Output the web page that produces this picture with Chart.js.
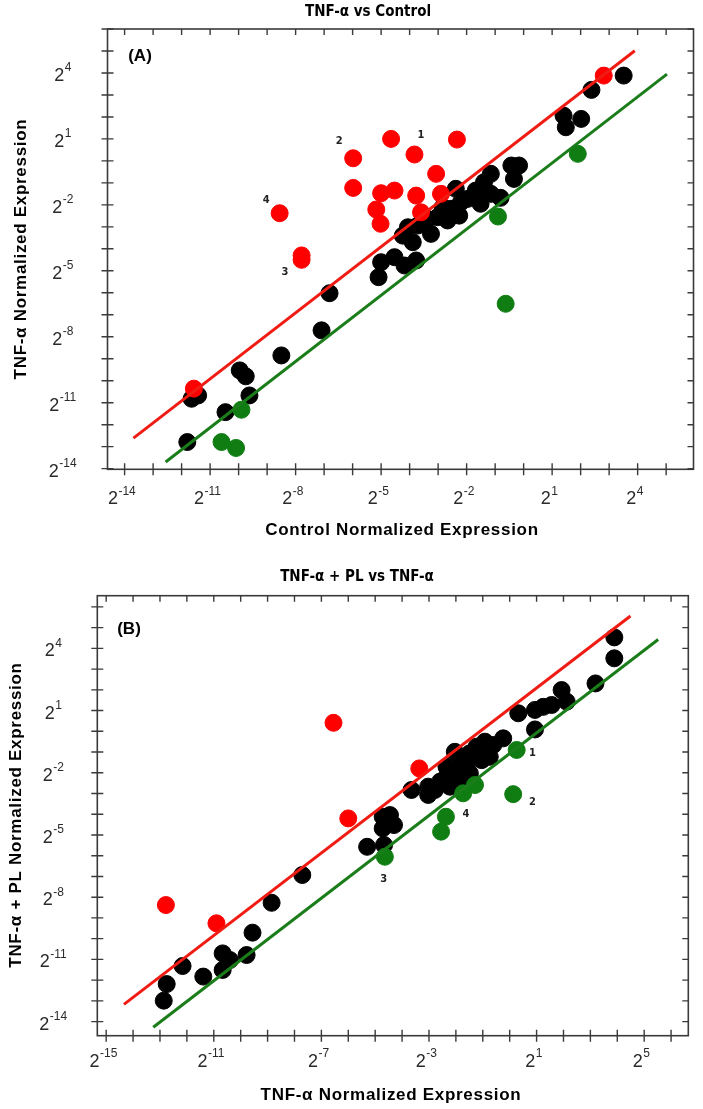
<!DOCTYPE html>
<html>
<head>
<meta charset="utf-8">
<script src="https://cdn.jsdelivr.net/npm/chart.js@4.4.0/dist/chart.umd.min.js"></script>
<style>
  html, body { margin: 0; padding: 0; background: #fff; }
  canvas { display: block; }
</style>
</head>
<body>
<canvas id="chartA" width="703" height="545"></canvas>
<canvas id="chartB" width="703" height="564"></canvas>
<script>
// values are log2 of the normalized expression, [x, y]
var aBlack = [
  [3.51, 3.88], [2.38, 3.23], [1.40, 2.06], [1.48, 1.53], [2.02, 1.91],
  [-0.16, -0.21], [-0.43, -0.21], [-0.34, -0.82], [-1.15, -0.59], [-1.39, -0.97],
  [-1.68, -1.35], [-1.15, -1.50], [-0.81, -1.68], [-1.51, -1.95], [-1.97, -1.73],
  [-2.38, -1.27], [-2.20, -1.88], [-2.55, -2.18], [-2.84, -2.11], [-3.02, -2.56],
  [-2.67, -2.71], [-2.26, -2.49], [-3.37, -2.64], [-3.25, -3.32], [-3.71, -2.94],
  [-4.06, -3.02], [-3.89, -3.70], [-4.24, -3.40], [-5.00, -4.61], [-4.53, -4.38],
  [-3.77, -4.53], [-4.18, -4.76], [-5.09, -5.29], [-6.81, -6.02], [-7.09, -7.71],
  [-8.50, -8.85], [-9.96, -9.53], [-9.75, -9.80], [-9.62, -10.67], [-10.46, -11.43],
  [-11.80, -12.79], [-11.65, -10.82], [-11.42, -10.67]
];
var aRed = [
  [2.81, 3.88], [-4.65, 1.00], [-2.34, 0.97], [-3.83, 0.29], [-5.98, 0.12], [-3.07, -0.59],
  [-5.98, -1.23], [-5.00, -1.47], [-4.53, -1.35], [-3.77, -1.58], [-2.90, -1.50],
  [-8.56, -2.38], [-5.17, -2.21], [-5.02, -2.86], [-3.60, -2.34], [-7.79, -4.30],
  [-7.79, -4.50], [-11.57, -10.36]
];
var aGreen = [
  [1.90, 0.32], [-0.90, -2.53], [-0.63, -6.50], [-9.90, -11.32], [-10.60, -12.79], [-10.09, -13.06]
];
var aRedLine = [[-13.69, -12.61], [3.90, 5.01]];
var aGreenLine = [[-12.56, -13.70], [5.03, 3.95]];
var aXTicks = [-14, -11, -8, -5, -2, 1, 4];
var aYTicks = [4, 1, -2, -5, -8, -11, -14];
var aNotes = [['1', -3.6, 1.15], ['2', -6.47, 0.89], ['3', -8.37, -5.06], ['4', -9.03, -1.8]];

var bBlack = [
  [3.89, 4.53], [3.89, 3.52], [3.19, 2.31], [1.93, 1.99], [2.12, 1.43], [1.56, 1.27],
  [1.25, 1.18], [0.94, 1.03], [0.32, 0.87], [0.94, 0.09],
  [-0.24, -0.34], [-0.61, -0.66], [-0.92, -0.50], [-1.23, -0.74], [-0.74, -1.23],
  [-1.04, -1.39], [-1.48, -1.06], [-1.85, -1.23], [-2.04, -0.99], [-1.60, -1.71],
  [-2.10, -1.87], [-2.35, -2.19], [-1.85, -2.27], [-2.59, -2.43], [-2.22, -2.67],
  [-2.78, -2.83], [-3.03, -2.67], [-3.65, -2.83], [-3.03, -3.07], [-1.48, -2.03], [-2.35, -1.71],
  [-4.45, -4.04], [-4.72, -4.12], [-4.55, -4.36], [-4.72, -4.68], [-4.30, -4.52],
  [-5.30, -5.57], [-4.67, -5.48], [-7.71, -6.93],
  [-8.85, -8.27], [-9.56, -9.71], [-9.78, -10.79], [-10.67, -10.71], [-10.40, -11.03],
  [-10.67, -11.51], [-11.39, -11.83], [-12.16, -11.32], [-12.75, -12.19], [-12.86, -12.99]
];
var bRed = [[-6.55, 0.41], [-3.36, -1.79], [-6.00, -4.20], [-12.78, -8.38], [-10.90, -9.26]];
var bGreen = [
  [0.26, -0.90], [0.13, -3.03], [-2.37, -4.12], [-1.73, -2.99], [-1.29, -2.59],
  [-2.55, -4.84], [-4.64, -6.05]
];
var bRedLine = [[-14.34, -13.17], [4.49, 5.56]];
var bGreenLine = [[-13.25, -14.27], [5.52, 4.43]];
var bXTicks = [-15, -11, -7, -3, 1, 5];
var bYTicks = [4, 1, -2, -5, -8, -11, -14];
var bNotes = [['1', 0.85, -1.03], ['2', 0.85, -3.4], ['3', -4.68, -7.14], ['4', -1.63, -3.99]];

var RED = '#ff0000', GREEN = '#0f7d12', BLACK = '#000000';

function pts(arr) {
  return arr.map(function (p) { return { x: p[0], y: p[1] }; });
}

function dots(arr, color, order) {
  return { data: pts(arr), backgroundColor: color, borderColor: color, borderWidth: 1,
           pointRadius: 8.5, pointHoverRadius: 8.5, order: order };
}

function line(arr, color) {
  return { data: pts(arr), showLine: true, borderColor: color, borderWidth: 3,
           pointRadius: 0, fill: false, order: 0 };
}

// superscript tick label: "2" then the exponent
function powLabel(ctx, exp, x, y) {
  var big = '18px "Liberation Sans", Arial, sans-serif';
  var small = '12px "Liberation Sans", Arial, sans-serif';
  var e = String(exp);
  ctx.font = big;
  var wb = ctx.measureText('2').width;
  ctx.font = small;
  var we = ctx.measureText(e).width;
  var left = x - (wb + we) / 2;
  ctx.textAlign = 'left';
  ctx.textBaseline = 'middle';
  ctx.font = big;
  ctx.fillText('2', left, y);
  ctx.font = small;
  ctx.fillText(e, left + wb + 0.5, y - 8);
}

var framePlugin = {
  id: 'frame',
  afterDatasetsDraw: function (chart, args, o) {
    var ctx = chart.ctx, a = chart.chartArea;
    var xs = chart.scales.x, ys = chart.scales.y;
    var v, p;
    ctx.save();
    ctx.strokeStyle = '#3a3a3a';
    ctx.lineWidth = 1.6;
    ctx.strokeRect(a.left, a.top, a.right - a.left, a.bottom - a.top);

    ctx.lineWidth = 1.4;
    ctx.beginPath();
    for (v = Math.ceil(xs.min); v <= xs.max; v++) {
      p = xs.getPixelForValue(v);
      ctx.moveTo(p, a.bottom - 6); ctx.lineTo(p, a.bottom + 6);
      ctx.moveTo(p, a.top); ctx.lineTo(p, a.top + 6);
    }
    for (v = Math.ceil(ys.min); v <= ys.max; v++) {
      p = ys.getPixelForValue(v);
      ctx.moveTo(a.left - 6, p); ctx.lineTo(a.left + 6, p);
      ctx.moveTo(a.right - 6, p); ctx.lineTo(a.right, p);
    }
    ctx.stroke();

    ctx.fillStyle = '#2a2a2a';
    o.xTicks.forEach(function (t) {
      powLabel(ctx, t, xs.getPixelForValue(t) - 3, a.bottom + o.xLabelGap);
    });
    o.yTicks.forEach(function (t) {
      powLabel(ctx, t, o.yLabelX, ys.getPixelForValue(t) + 3);
    });

    ctx.fillStyle = '#000';
    ctx.textAlign = 'center';
    ctx.textBaseline = 'middle';
    ctx.font = 'bold 15px "Liberation Sans Narrow", "DejaVu Sans Condensed", sans-serif';
    ctx.fillText(o.title, o.titleX, o.titleY);

    ctx.font = 'bold 17px "Liberation Sans", Arial, sans-serif';
    ctx.letterSpacing = '0.7px';
    ctx.fillText(o.xTitle, o.xTitleX, o.xTitleY);
    ctx.save();
    ctx.translate(o.yTitleX, o.yTitleY);
    ctx.rotate(-Math.PI / 2);
    ctx.fillText(o.yTitle, 0, 0);
    ctx.restore();
    ctx.letterSpacing = '0px';

    ctx.font = 'bold 17px "Liberation Sans", Arial, sans-serif';
    ctx.fillText(o.panel, a.left + o.panelDx, a.top + o.panelDy);

    ctx.font = 'bold 11px "Liberation Sans Narrow", "DejaVu Sans Condensed", sans-serif';
    ctx.fillStyle = '#222';
    o.notes.forEach(function (n) {
      ctx.fillText(n[0], xs.getPixelForValue(n[1]), ys.getPixelForValue(n[2]));
    });
    ctx.restore();
  }
};

function makeChart(id, ds, range, box, frame) {
  var cv = document.getElementById(id);
  return new Chart(cv, {
    type: 'scatter',
    data: { datasets: ds },
    options: {
      responsive: false,
      animation: false,
      devicePixelRatio: 1,
      layout: { padding: { top: box.top, right: cv.width - box.right, left: 0, bottom: 0 } },
      plugins: { legend: { display: false }, tooltip: { enabled: false }, frame: frame },
      scales: {
        x: {
          type: 'linear', min: range.xMin, max: range.xMax,
          ticks: { display: false }, grid: { display: false }, border: { display: false },
          afterFit: function (s) { s.height = cv.height - box.bottom; }
        },
        y: {
          type: 'linear', min: range.yMin, max: range.yMax,
          ticks: { display: false }, grid: { display: false }, border: { display: false },
          afterFit: function (s) { s.width = box.left; }
        }
      }
    },
    plugins: [framePlugin]
  });
}

makeChart('chartA',
  [line(aRedLine, '#f01c14'), line(aGreenLine, '#1a7d1a'),
   dots(aGreen, GREEN, 1), dots(aRed, RED, 2), dots(aBlack, BLACK, 3)],
  { xMin: -14.6, xMax: 5.96, yMin: -14.03, yMax: 6 },
  { left: 107.5, right: 696.5, top: 29, bottom: 469.3 },
  { xTicks: aXTicks, yTicks: aYTicks, xLabelGap: 30, yLabelX: 62.5,
    title: 'TNF-\u03b1 vs Control', titleX: 368, titleY: 12,
    xTitle: 'Control Normalized Expression', xTitleX: 402, xTitleY: 530,
    yTitle: 'TNF-\u03b1 Normalized Expression', yTitleX: 21, yTitleY: 249,
    panel: '(A)', panelDx: 32.5, panelDy: 27, notes: aNotes });

makeChart('chartB',
  [line(bRedLine, '#f01c14'), line(bGreenLine, '#1a7d1a'),
   dots(bGreen, GREEN, 1), dots(bRed, RED, 2), dots(bBlack, BLACK, 3)],
  { xMin: -15.33, xMax: 6.64, yMin: -14.68, yMax: 6.54 },
  { left: 97.3, right: 688.3, top: 50.7, bottom: 490.7 },
  { xTicks: bXTicks, yTicks: bYTicks, xLabelGap: 26, yLabelX: 53,
    title: 'TNF-\u03b1 + PL vs TNF-\u03b1', titleX: 357, titleY: 32,
    xTitle: 'TNF-\u03b1 Normalized Expression', xTitleX: 391, xTitleY: 550,
    yTitle: 'TNF-\u03b1 + PL Normalized Expression', yTitleX: 16, yTitleY: 270,
    panel: '(B)', panelDx: 31.7, panelDy: 33.3, notes: bNotes });
</script>
</body>
</html>
